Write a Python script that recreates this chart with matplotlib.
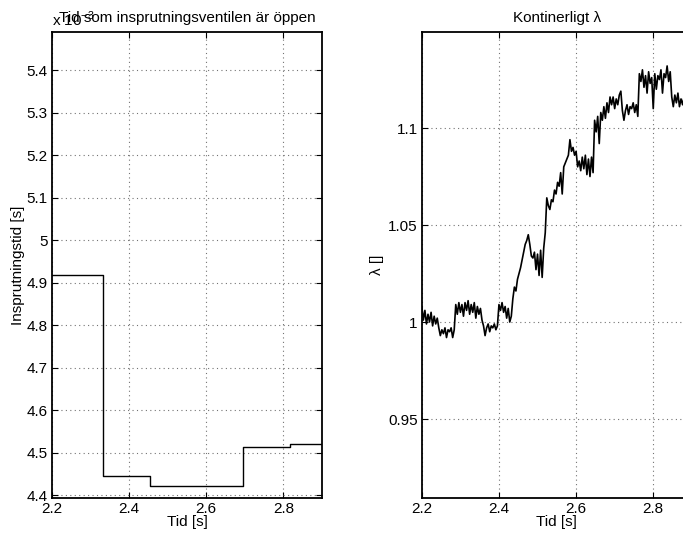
import numpy as np
import matplotlib
matplotlib.use('Agg')
import matplotlib.pyplot as plt
from matplotlib.ticker import FuncFormatter

plt.rcParams['font.family'] = ['Liberation Sans', 'DejaVu Sans']
plt.rcParams['mathtext.fontset'] = 'custom'
plt.rcParams['mathtext.rm'] = 'Liberation Sans'
plt.rcParams['font.size'] = 11

# vänster: insprutningstid (trappsteg)
inj_t = [2.2, 2.333, 2.453, 2.695, 2.8175, 2.9]
inj_val = [4.917e-3, 4.445e-3, 4.422e-3, 4.513e-3, 4.520e-3, 4.520e-3]

# höger: kontinuerligt lambda
lam = [
    1.008, 1.001, 1.006, 0.999, 1.004, 1.000, 1.005, 0.998, 1.003, 0.999, 1.002,
    0.997, 0.993, 0.996, 0.994, 0.997, 0.992, 0.996, 0.995, 0.997, 0.992, 0.996,
    1.009, 1.004, 1.010, 1.005, 1.009, 1.003, 1.010, 1.006, 1.011, 1.004, 1.009,
    1.005, 1.010, 1.002, 1.008, 1.004, 1.007, 1.001,
    0.998, 0.993, 0.997, 0.999, 0.995, 0.998, 0.997, 0.999, 0.996, 0.998,
    1.009, 1.006, 1.010, 1.005, 1.008, 1.002, 1.007, 1.000, 1.003,
    1.012, 1.018, 1.016, 1.022, 1.025, 1.028, 1.032, 1.036, 1.040, 1.042, 1.045,
    1.040, 1.034, 1.033, 1.036, 1.027, 1.035, 1.024, 1.037, 1.023, 1.038,
    1.046, 1.064,
    1.060, 1.058, 1.063, 1.062, 1.068, 1.066, 1.072, 1.070, 1.077, 1.066, 1.080,
    1.082, 1.084, 1.086, 1.094, 1.088, 1.090, 1.086, 1.088,
    1.080, 1.083, 1.078, 1.085, 1.079, 1.086, 1.076, 1.084, 1.075, 1.085, 1.077,
    1.104, 1.098, 1.106, 1.092, 1.108, 1.104, 1.111, 1.105, 1.113, 1.108, 1.116,
    1.112, 1.116, 1.110, 1.115, 1.112, 1.117, 1.119, 1.109, 1.104,
    1.109, 1.112, 1.107, 1.111, 1.110, 1.113, 1.108, 1.112, 1.106,
    1.128, 1.124, 1.130, 1.121, 1.127, 1.118, 1.129, 1.123, 1.126, 1.110, 1.128,
    1.120, 1.127, 1.125, 1.130, 1.118, 1.128, 1.126, 1.132, 1.124, 1.129,
    1.116, 1.111, 1.117, 1.113, 1.118, 1.111, 1.115, 1.112, 1.116, 1.113, 1.117,
    1.114, 1.116, 1.115,
]
lam_t = np.linspace(2.2, 2.9, len(lam))

xticks = [2.2, 2.4, 2.6, 2.8]

fig = plt.figure(figsize=(6.83, 5.35), dpi=100)
ax1 = fig.add_axes([0.0761, 0.0692, 0.3953, 0.871])
ax2 = fig.add_axes([0.6176, 0.0692, 0.3953, 0.871])


def matlab_style(ax):
    ax.grid(True, linestyle=(0, (1, 3)), color='0.45', linewidth=0.8)
    ax.tick_params(direction='in', top=True, right=True, length=4, width=0.8,
                   labelsize=11, pad=3)
    for s in ax.spines.values():
        s.set_linewidth(1.3)
    ax.set_xticks(xticks)
    ax.xaxis.set_major_formatter(FuncFormatter(lambda v, p: '%g' % v))


ax1.step(inj_t, inj_val, where='post', color='k', linewidth=1.0)
ax1.set_xlim(2.2, 2.9)
ax1.set_ylim(4.393e-3, 5.49e-3)
ax1.set_yticks(np.arange(4.4, 5.41, 0.1) * 1e-3)
matlab_style(ax1)
ax1.yaxis.set_major_formatter(FuncFormatter(lambda v, p: '%g' % round(v * 1e3, 2)))
ax1.set_title('Tid som insprutningsventilen är öppen', fontsize=11, pad=7)
ax1.text(0.0, 1.006, r'x 10$^{-3}$', transform=ax1.transAxes, fontsize=11,
         ha='left', va='bottom')
ax1.set_xlabel('Tid [s]', labelpad=-1)
ax1.set_ylabel('Insprutningstid [s]', labelpad=1)

ax2.plot(lam_t, lam, color='k', linewidth=1.2)
ax2.set_xlim(2.2, 2.9)
ax2.set_ylim(0.9093, 1.1495)
ax2.set_yticks([0.95, 1.0, 1.05, 1.1])
matlab_style(ax2)
ax2.yaxis.set_major_formatter(FuncFormatter(lambda v, p: '%g' % v))
ax2.set_title('Kontinerligt λ', fontsize=11, pad=7)
ax2.set_xlabel('Tid [s]', labelpad=-1)
ax2.set_ylabel('λ []', labelpad=3)

fig.savefig('out.png', dpi=100)
